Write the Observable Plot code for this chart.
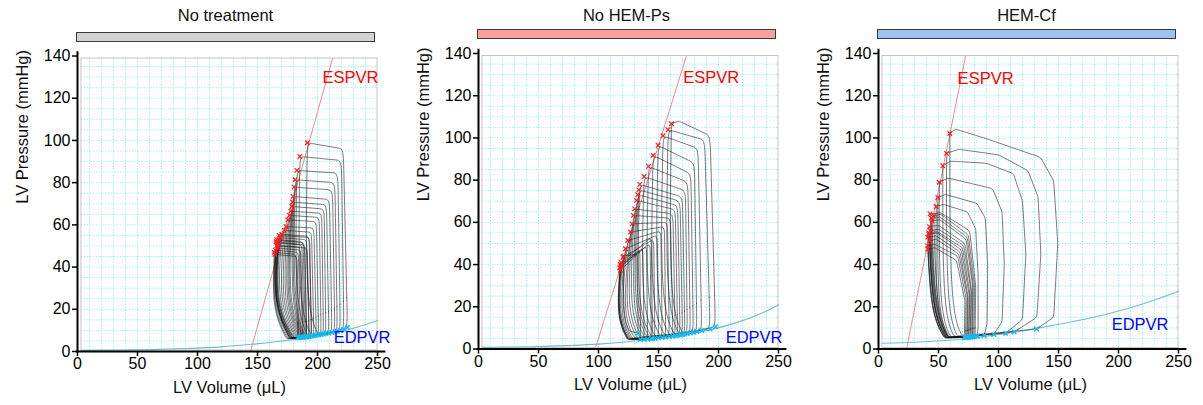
<!DOCTYPE html>
<html><head><meta charset="utf-8">
<script src="https://cdn.jsdelivr.net/npm/d3@7"></script>
<script src="https://cdn.jsdelivr.net/npm/@observablehq/plot@0.6"></script>
<style>
body{margin:0;background:#fff;font-family:Arial,"Liberation Sans",sans-serif;}
#root{position:relative;width:1203px;height:405px;overflow:hidden;background:#fff;}
.panel{position:absolute;top:0;width:400px;height:405px;}
.title{position:absolute;left:76px;width:299px;top:5px;line-height:20px;text-align:center;font-size:16.5px;color:#111;}
.bar{position:absolute;left:76px;width:299px;height:10px;box-sizing:border-box;border:1.5px solid #3a3a3a;}
.panel svg{position:absolute;left:0;top:0;overflow:visible;}
</style></head><body><div id="root"></div>
<script>
// ---------- data ----------
const panelTitles = ["No treatment", "No HEM-Ps", "HEM-Cf"];
const volumeTicks = [0, 50, 100, 150, 200, 250];
const pressureTicks = [0, 20, 40, 60, 80, 100, 120, 140];

// ESPVR fitted lines: [volume, pressure] end points
const espvrNoTreatment = [[144.4, 0.5], [212.5, 138.8]];
const espvrNoHEM = [[97.5, 0.5], [173.2, 138.8]];
const espvrHEMCf = [[23.5, 0.5], [72.6, 138.8]];

// EDPVR fitted curves
const edpvrNoTreatmentV = [3, 30, 60, 90, 120, 145, 165, 185, 205, 226, 250];
const edpvrNoTreatmentP = [0.4, 0.6, 0.9, 1.4, 2.2, 3.4, 4.6, 6.1, 8, 10.4, 14.7];
const edpvrNoHEMV = [3, 50, 100, 135, 160, 190, 215, 235, 250];
const edpvrNoHEMP = [0.8, 1.2, 2.3, 4, 5.8, 8.7, 12.5, 16.7, 21];
const edpvrHEMCfV = [3, 30, 52, 75, 93, 112, 132, 160, 190, 220, 250];
const edpvrHEMCfP = [2.7, 3.2, 3.9, 5, 6.3, 7.8, 9.8, 12.8, 16.5, 21.3, 27.4];

// PV loops: corner vertices [V,P,...] starting at end-diastole (first pair);
// the end-systolic point is always the third-from-last pair.
const loopsNoTreatment = [
  [225,11.5, 221.5,96, 191.6,98.9, 189.5,22, 201,7.5],
  [222,10.5, 220,90.5, 185.3,92.4, 183.5,22, 195,7.3],
  [219,10, 217,84.5, 182.8,85.8, 181,22, 192,7.1],
  [216.5,9.6, 214.5,80, 181.4,81.4, 179.5,21, 190,7],
  [214.5,9.3, 212.5,76.5, 180.5,77.9, 178.5,21, 189,6.9],
  [212,9, 210,72, 179.7,73.5, 177.5,21, 188,6.8],
  [209.5,8.7, 207.5,69.5, 179.2,70.8, 175,22, 188,6.8],
  [207,8.5, 205.5,67.5, 178.6,68.7, 174,22, 187,6.7],
  [205,8.3, 203.5,65.5, 177.8,66.5, 173,22, 186,6.7],
  [203,8.1, 201.5,63.5, 176.6,64.5, 172,22, 185,6.6],
  [201,7.9, 199,61.5, 175.3,62.4, 170.5,22, 184,6.6],
  [199,7.7, 197,58.5, 173.8,59.2, 169,22, 183,6.5],
  [197,7.5, 195,56.5, 172.2,57.4, 167.5,22, 182,6.5],
  [195,7.3, 193,54.5, 170.3,55.5, 166,22, 181,6.4],
  [193,7.1, 191,53, 168.9,53.9, 165,22, 180,6.4],
  [191,7, 189,51.5, 167.8,52.6, 164.5,22, 179,6.3],
  [189,6.9, 187,50.5, 166.6,51.4, 164,22, 178,6.3],
  [187.5,6.8, 185.5,49.5, 166.1,50.2, 163.5,22, 177,6.2],
  [186,6.7, 184,47, 165,48, 163,21, 176,6.2],
  [191,7, 189.5,50.5, 165.5,52, 163,22, 178,6.4],
  [193,7.2, 191.5,49, 167,50, 163.5,21, 179,6.4],
  [184.5,6.6, 183,45, 164.5,46, 162.5,20, 175,6.1],
  [190,6.9, 188,52, 166,53, 163,22, 177,6.3],
  [195,7.3, 193.5,54, 168,55, 164,22, 180,6.5],
  [183.5,6.5, 182,46, 164,47, 162,20, 174,6.1],
  [188,6.8, 186,48, 167,49, 163.5,21, 177,6.2]
];

const loopsNoHEM = [
  [197.5,10.5, 193,101, 167,108, 160.8,106.7, 158.5,22, 170,7.5],
  [193,9.5, 188.5,99, 158,103.9, 155.5,22, 167,7.2],
  [186,8.8, 183,95, 153.8,101, 151,22, 163,7],
  [182,8.3, 180,88, 149.7,96.5, 147,21, 159,6.8],
  [179,8, 177,83, 145.5,91.7, 143,21, 155,6.6],
  [176.5,7.6, 174.5,79, 141.7,86.5, 139,21, 151,6.4],
  [174,7.4, 172.5,75, 138,81.7, 135,20, 147,6.2],
  [172,7.1, 170,72, 134.4,78, 131.5,20, 144,6],
  [170,6.9, 168,70, 133.6,75.4, 130,20, 142,5.9],
  [168,6.7, 166,68, 132.7,73.1, 128.5,20, 140,5.8],
  [166,6.5, 164,66, 131.7,70.4, 127,19, 138,5.7],
  [164,6.3, 162,64, 130.2,66.4, 125,19, 136,5.6],
  [162,6.1, 160,62, 129.1,63.3, 123,18, 134,5.5],
  [159,5.9, 157.5,60, 128,59.3, 121,18, 132,5.4],
  [156,5.7, 155,58, 126.7,55.4, 119.5,17, 130,5.2],
  [153,5.5, 152,56, 124.4,51.4, 118,17, 128,5.1],
  [150,5.3, 149,54, 122.5,47.5, 117,16, 127,5],
  [147,5.1, 146,52, 120.5,43.5, 116,16, 126,4.9],
  [144,4.9, 143,50, 119.1,39.7, 115.5,15, 125,4.8],
  [141,4.7, 140,49, 118.3,37.3, 115,15, 124,4.7],
  [138,4.6, 137,48, 117.8,38.5, 115,15, 124,4.6],
  [135,4.5, 134.5,47, 118.2,40, 115.5,15, 125,4.5],
  [133,7.5, 132.5,45, 121,44, 120.5,14, 126,8.5],
  [145,5, 144,53, 118.8,41, 115.5,15, 125,4.8]
];

const loopsHEMCf = [
  [131.7,9.5, 146,15, 149.4,50, 146,79.7, 135,90.8, 90.6,99.5, 64.2,104.2, 59.4,102.1, 59.5,18, 70,6],
  [113,8.1, 132,15, 135.3,45, 133,72, 124.5,84.5, 100,92, 67,94.6, 56.7,92.7, 56.5,18, 66,5.9],
  [106,7.5, 120,14, 122.8,45, 120,70, 112.5,83, 90,88, 60,89, 53.6,86.8, 53.5,18, 63,5.8],
  [96,6.9, 103,13, 104.8,40, 103,65, 95,76, 58,81, 50.6,79, 50.5,18, 60,5.7],
  [88,6.4, 90.5,12, 91,40, 89,62, 82,69, 56,73.2, 49.4,71.8, 49,18, 58,5.7],
  [82.5,6.1, 83,11, 83,35, 81,57, 74,65, 54,68.5, 48.1,67.5, 47.5,18, 57,5.6],
  [79.5,5.9, 80,30, 75,54, 52,63.8, 46.1,63.1, 48,18, 59,5.5],
  [78,5.8, 78.5,30, 73,52, 51,61.3, 44.7,60.7, 47,18, 58,5.5],
  [76.5,5.7, 77,28, 71,49, 50,56.8, 43.3,56, 46,17, 57,5.4],
  [75,5.6, 75.5,26, 69,47, 49,55, 42,54.4, 45,17, 56,5.4],
  [73.5,5.6, 74,25, 67,45, 48,52, 42.8,51.3, 45.5,17, 56,5.3],
  [71.5,5.5, 72,23, 65,42, 47,48, 41.1,47.4, 44,16, 55,5.3],
  [78.5,5.8, 79,30, 74,53, 51,62.6, 44,62, 46.5,18, 58,5.5],
  [77,5.7, 77.5,28, 72,50, 50,58.6, 42.5,58, 45,17, 57,5.4],
  [74,5.6, 74.5,25, 68,46, 48,53.6, 41,53, 44,17, 55,5.4],
  [72.5,5.5, 73,24, 66,44, 47,49.6, 41,49, 44,16, 55,5.3],
  [80.5,6, 81,30, 76,56, 52,64.5, 43,64, 46,18, 58,5.6],
  [75.5,5.6, 76,27, 70,48, 49,55.6, 42,55, 45,17, 56,5.4]
];

// ---------- drawing ----------
const FONT = 'Arial, "Liberation Sans", sans-serif';
const panels = [
  {title: panelTitles[0], strip: "#d3d3d3", loops: loopsNoTreatment, espvr: espvrNoTreatment,
   edV: edpvrNoTreatmentV, edP: edpvrNoTreatmentP, left: 0, t: 2.5, es: [-10, 19.5], ed: [13, 17.5]},
  {title: panelTitles[1], strip: "#f8a19c", loops: loopsNoHEM, espvr: espvrNoHEM,
   edV: edpvrNoHEMV, edP: edpvrNoHEMP, left: 401, t: 0, es: [-3, 21.5], ed: [4, 33]},
  {title: panelTitles[2], strip: "#9dc3f4", loops: loopsHEMCf, espvr: espvrHEMCf,
   edV: edpvrHEMCfV, edP: edpvrHEMCfP, left: 801, t: 0, es: [-8, 23], ed: [-10, 33.5]}
];

const gridX = d3.range(10, 250, 10);
const gridY = d3.range(5, 139, 5);
const box = {x1: 3.3, x2: 250, y1: 0.5, y2: 138.8};

const root = document.getElementById("root");
for (const pn of panels) {
  const div = document.createElement("div");
  div.className = "panel";
  div.style.left = pn.left + "px";
  root.appendChild(div);

  // corner vertices are doubled (tight corners); the lower-left vertex is a
  // single control point so the relaxation-to-filling turn is smoothly rounded
  const pts = [];
  pn.loops.forEach((f, i) => {
    const n = f.length / 2;
    for (let k = 0; k < n; k++) {
      const d = {loop: i, v: f[2 * k], p: f[2 * k + 1]};
      if (k === n - 2) pts.push(d); else pts.push(d, d);
    }
  });
  const esPts = pn.loops.map(f => ({v: f[f.length - 6], p: f[f.length - 5]}));
  const edPts = pn.loops.map(f => ({v: f[0], p: f[1]}));
  const edpvr = pn.edV.map((v, i) => ({v, p: pn.edP[i]}));
  const espvr = pn.espvr.map(([v, p]) => ({v, p}));

  const svg = Plot.plot({
    width: 400, height: 405,
    marginLeft: 77, marginRight: 23, marginTop: 53 + pn.t, marginBottom: 56.5 - pn.t,
    x: {domain: [0, 250]}, y: {domain: [0, 140]},
    style: {fontFamily: FONT, background: "transparent", color: "#000", overflow: "visible"},
    marks: [
      Plot.ruleX(gridX, {y1: box.y1, y2: box.y2, stroke: "#9ff0f6", strokeWidth: 1, strokeDasharray: "1.5,1.5"}),
      Plot.ruleY(gridY, {x1: box.x1, x2: box.x2, stroke: "#9ff0f6", strokeWidth: 1, strokeDasharray: "1.5,1.5"}),
      Plot.rect([box], {x1: "x1", x2: "x2", y1: "y1", y2: "y2", fill: "none", stroke: "#c4c4c4", strokeWidth: 1}),
      Plot.line(espvr, {x: "v", y: "p", stroke: "#ee8a8a", strokeWidth: 1}),
      Plot.line(edpvr, {x: "v", y: "p", stroke: "#74b9d3", strokeWidth: 1.1, curve: "catmull-rom"}),
      Plot.line(pts, {x: "v", y: "p", z: "loop", curve: "basis-closed", stroke: "#111", strokeWidth: 0.75, strokeOpacity: 0.75}),
      Plot.dot(edPts, {x: "v", y: "p", symbol: "times", r: 2.2, stroke: "#16b8ee", strokeWidth: 1.4}),
      Plot.dot(esPts, {x: "v", y: "p", symbol: "times", r: 2.2, stroke: "#ff1a1a", strokeWidth: 1.2}),
      Plot.text([espvr[1]], {x: "v", y: "p", text: () => "ESPVR", textAnchor: "start", dx: pn.es[0], dy: pn.es[1], fill: "#ff0000", fontSize: 16.5}),
      Plot.text([edpvr[edpvr.length - 1]], {x: "v", y: "p", text: () => "EDPVR", textAnchor: "end", dx: pn.ed[0], dy: pn.ed[1], fill: "#0000ff", fontSize: 16.5}),
      Plot.ruleX([0], {y1: 0, y2: 142, stroke: "#000", strokeWidth: 2}),
      Plot.ruleY([0], {x1: -1, x2: 257, stroke: "#000", strokeWidth: 2}),
      Plot.axisX(volumeTicks, {tickSize: 5, tickPadding: 1.5, fontSize: 16, strokeWidth: 1.5, label: null}),
      Plot.axisY(pressureTicks, {tickSize: 5, tickPadding: 2, fontSize: 16, strokeWidth: 1.5, label: null}),
      Plot.text(["LV Volume (μL)"], {frameAnchor: "bottom", text: d => d, dx: 2, dy: 41, fontSize: 16.5, fill: "#111"}),
      Plot.text(["LV Pressure (mmHg)"], {frameAnchor: "left", text: d => d, rotate: -90, dx: -55, fontSize: 16.5, fill: "#111"})
    ]
  });
  div.appendChild(svg);

  const title = document.createElement("div");
  title.className = "title";
  title.textContent = pn.title;
  div.appendChild(title);
  const bar = document.createElement("div");
  bar.className = "bar";
  bar.style.top = (29 + pn.t) + "px";
  bar.style.background = pn.strip;
  div.appendChild(bar);
}
</script></body></html>
